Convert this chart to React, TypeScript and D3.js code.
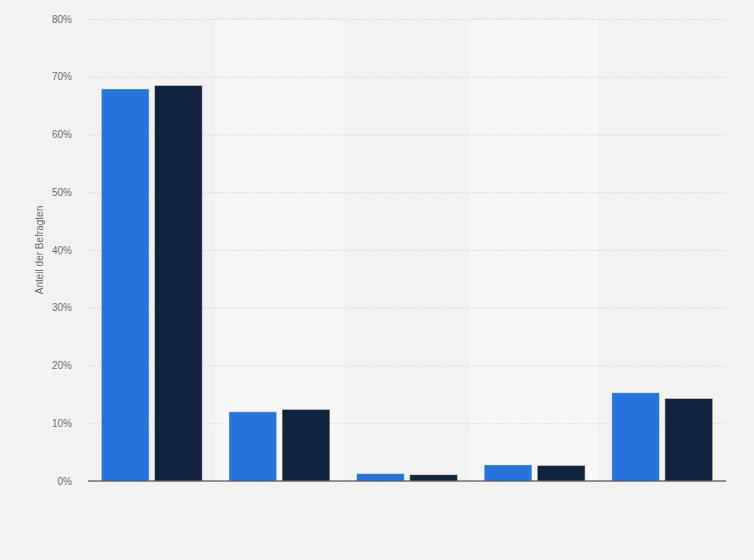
import { useEffect, useRef } from "react";
import * as d3 from "d3";

const categories = ["A", "B", "C", "D", "E"];
const series1 = [67.9, 12.0, 1.3, 2.8, 15.3];
const series2 = [68.5, 12.4, 1.1, 2.7, 14.3];
const yTicks = [0, 10, 20, 30, 40, 50, 60, 70, 80];
const colors = ["#2775db", "#10253b"];

export default function App() {
  const ref = useRef<SVGSVGElement>(null);

  useEffect(() => {
    if (!ref.current) return;
    const svg = d3.select(ref.current);
    svg.selectAll("*").remove();
    const w = 754;
    const h = 560;
    const m = { t: 19, r: 28, b: 79, l: 88 };
    const font = "Arial, 'Liberation Sans', sans-serif";

    svg.append("rect").attr("width", w).attr("height", h).attr("fill", "#f2f2f2");

    const x = d3.scaleBand<string>().domain(categories).range([m.l, w - m.r]).padding(0);
    const sub = d3.scaleBand<number>().domain([0, 1]).range([0, x.bandwidth()])
      .paddingInner(0.1).paddingOuter(0.25);
    const y = d3.scaleLinear().domain([0, 80]).range([h - m.b, m.t]);

    // alternating bands
    svg.append("g").selectAll("rect")
      .data(categories.filter((_, i) => i % 2 === 1))
      .join("rect")
      .attr("x", (d) => x(d)!)
      .attr("y", y(80))
      .attr("width", x.bandwidth())
      .attr("height", y(0) - y(80))
      .attr("fill", "#f7f7f7");

    // grid + tick labels
    const yAxis = svg.append("g")
      .attr("transform", `translate(${m.l},0)`)
      .call(d3.axisLeft(y).tickValues(yTicks).tickSize(-(w - m.l - m.r)).tickPadding(16).tickFormat((d) => `${d}%`))
      .call((g) => g.select(".domain").remove());
    yAxis.selectAll("line")
      .attr("stroke", "#d6d6d6").attr("stroke-dasharray", "1.5 1.5");
    yAxis.selectAll("text")
      .attr("font-family", font).attr("font-size", 10).attr("fill", "#6e6e6e");

    // bars
    const seriesList = [series1, series2];
    seriesList.forEach((vals, si) => {
      svg.append("g").selectAll("rect")
        .data(vals)
        .join("rect")
        .attr("x", (_, i) => x(categories[i])! + sub(si)!)
        .attr("y", (d) => y(d))
        .attr("width", sub.bandwidth())
        .attr("height", (d) => y(0) - y(d))
        .attr("fill", colors[si])
        .attr("stroke", "#ffffff")
        .attr("stroke-opacity", 0.5)
        .attr("stroke-width", 1);
    });

    // baseline
    svg.append("line")
      .attr("x1", m.l).attr("x2", w - m.r)
      .attr("y1", y(0)).attr("y2", y(0))
      .attr("stroke", "#333").attr("stroke-width", 1);

    // y title
    svg.append("text")
      .attr("transform", `translate(43,${(y(0) + y(80)) / 2}) rotate(-90)`)
      .attr("text-anchor", "middle")
      .attr("font-family", font)
      .attr("font-size", 10)
      .attr("fill", "#6e6e6e")
      .text("Anteil der Befragten");
  }, []);

  return (
    <svg ref={ref} width={754} height={560} style={{ display: "block", position: "absolute", left: 0, top: 0 }} />
  );
}
